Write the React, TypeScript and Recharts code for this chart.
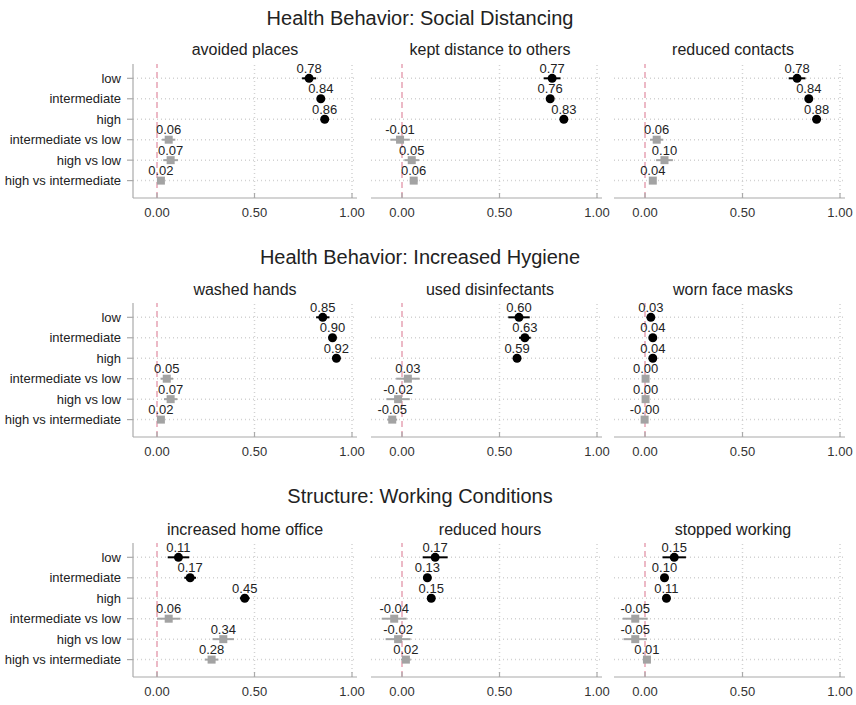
import { ScatterChart, Scatter, XAxis, YAxis, ReferenceLine, ErrorBar } from 'recharts';

const categories = [
  'low',
  'intermediate',
  'high',
  'intermediate vs low',
  'high vs low',
  'high vs intermediate',
];

const sectionTitles = [
  'Health Behavior: Social Distancing',
  'Health Behavior: Increased Hygiene',
  'Structure: Working Conditions',
];

const xTicks = [0, 0.5, 1];

// point estimates (first three: levels, last three: differences) and CI half widths
const avoidedPlaces = [0.78, 0.84, 0.86, 0.06, 0.07, 0.02];
const avoidedPlacesErr = [0.036, 0.015, 0.01, 0.034, 0.038, 0.015];
const keptDistance = [0.77, 0.76, 0.83, -0.01, 0.05, 0.06];
const keptDistanceErr = [0.043, 0.015, 0.012, 0.05, 0.038, 0.02];
const reducedContacts = [0.78, 0.84, 0.88, 0.06, 0.1, 0.04];
const reducedContactsErr = [0.043, 0.015, 0.012, 0.034, 0.043, 0.015];

const washedHands = [0.85, 0.9, 0.92, 0.05, 0.07, 0.02];
const washedHandsErr = [0.034, 0.012, 0.01, 0.032, 0.034, 0.012];
const usedDisinfectants = [0.6, 0.63, 0.59, 0.03, -0.02, -0.05];
const usedDisinfectantsErr = [0.055, 0.03, 0.015, 0.06, 0.06, 0.025];
const wornFaceMasks = [0.03, 0.04, 0.04, 0.003, 0.003, -0.002];
const wornFaceMasksErr = [0.008, 0.008, 0.008, 0.008, 0.008, 0.008];

const homeOffice = [0.11, 0.17, 0.45, 0.06, 0.34, 0.28];
const homeOfficeErr = [0.055, 0.03, 0.025, 0.06, 0.055, 0.035];
const reducedHours = [0.17, 0.13, 0.15, -0.04, -0.02, 0.02];
const reducedHoursErr = [0.064, 0.02, 0.015, 0.064, 0.064, 0.025];
const stoppedWorking = [0.15, 0.1, 0.11, -0.05, -0.05, 0.01];
const stoppedWorkingErr = [0.06, 0.02, 0.015, 0.064, 0.06, 0.015];

const panels = [
  [
    { title: 'avoided places', values: avoidedPlaces, errs: avoidedPlacesErr },
    { title: 'kept distance to others', values: keptDistance, errs: keptDistanceErr },
    { title: 'reduced contacts', values: reducedContacts, errs: reducedContactsErr },
  ],
  [
    { title: 'washed hands', values: washedHands, errs: washedHandsErr },
    { title: 'used disinfectants', values: usedDisinfectants, errs: usedDisinfectantsErr },
    { title: 'worn face masks', values: wornFaceMasks, errs: wornFaceMasksErr },
  ],
  [
    { title: 'increased home office', values: homeOffice, errs: homeOfficeErr },
    { title: 'reduced hours', values: reducedHours, errs: reducedHoursErr },
    { title: 'stopped working', values: stoppedWorking, errs: stoppedWorkingErr },
  ],
];

const FONT = '"Liberation Sans", Arial, Helvetica, sans-serif';
const TEXT = '#222';
const GRID = '#d2d2d2';
const AXIS = '#aaaaaa';
const DIFF = '#a3a3a3';

// layout (px per unit on x = 195)
const PX = 195;
const ZERO_X = [157, 402, 645];
const LOW_Y = [78, 317, 557];
const PLOT_H = 134;
const X_MAX = 200 / PX;
const Y_MIN = -0.7;
const Y_MAX = 5.85;
const TOP_PAD = 14;
const AXIS_H = 30;

function LevelDot(props: any) {
  const { cx, cy, payload } = props;
  return (
    <g>
      <circle cx={cx} cy={cy} r={4.5} fill="#000" />
      <text x={cx} y={cy - 5.5} textAnchor="middle" fontSize={13} fill={TEXT} fontFamily={FONT}>
        {payload.x.toFixed(2)}
      </text>
    </g>
  );
}

function DiffSquare(props: any) {
  const { cx, cy, payload } = props;
  return (
    <g>
      <rect x={cx - 4} y={cy - 4} width={8} height={8} fill={DIFF} />
      <text x={cx} y={cy - 5.5} textAnchor="middle" fontSize={13} fill={TEXT} fontFamily={FONT}>
        {payload.x.toFixed(2)}
      </text>
    </g>
  );
}

// single-line category label (no wrapping)
function CategoryTick(props: any) {
  const { x, y, payload } = props;
  return (
    <text x={x - 6} y={y} dy="0.355em" textAnchor="end" fontSize={13} fill={TEXT} fontFamily={FONT}>
      {categories[payload.value] ?? ''}
    </text>
  );
}

function Panel({ row, col }: { row: number; col: number }) {
  const p = panels[row][col];
  const first = col === 0;
  const leftPad = first ? 24 : 31;
  const xMin = -leftPad / PX;
  const plotW = leftPad + 200;
  const plotLeft = ZERO_X[col] - leftPad;
  const yAxisW = first ? plotLeft : 0;
  const marginLeft = first ? 0 : 20;
  const width = marginLeft + yAxisW + plotW + 12;
  const height = TOP_PAD + PLOT_H + AXIS_H;
  const left = plotLeft - yAxisW - marginLeft;
  const top = LOW_Y[row] - 0.7 * (PLOT_H / (Y_MAX - Y_MIN)) - TOP_PAD;

  const rows = p.values.map((v, i) => ({ x: v, y: i, err: p.errs[i] }));
  const levels = rows.slice(0, 3);
  const diffs = rows.slice(3);

  return (
    <div style={{ position: 'absolute', left, top, width, height }}>
      <ScatterChart
        width={width}
        height={height}
        margin={{ top: TOP_PAD, right: 12, bottom: 0, left: marginLeft }}
      >
        <XAxis
          type="number"
          dataKey="x"
          domain={[xMin, X_MAX]}
          allowDataOverflow
          ticks={xTicks}
          tickFormatter={(v: number) => v.toFixed(2)}
          stroke={AXIS}
          axisLine={{ stroke: AXIS, strokeWidth: 1.2 }}
          tickLine={{ stroke: AXIS, strokeWidth: 1.2 }}
          tickSize={-5}
          tickMargin={15}
          height={AXIS_H}
          tick={{ fill: '#333', fontSize: 13, fontFamily: FONT }}
          interval={0}
        />
        <YAxis
          type="number"
          dataKey="y"
          domain={[Y_MIN, Y_MAX]}
          allowDataOverflow
          reversed
          ticks={[0, 1, 2, 3, 4, 5]}
          interval={0}
          hide={!first}
          width={yAxisW}
          stroke={AXIS}
          axisLine={{ stroke: AXIS, strokeWidth: 1.2 }}
          tickLine={{ stroke: AXIS, strokeWidth: 1.2 }}
          tickSize={6}
          tickMargin={0}
          tick={<CategoryTick />}
        />

        {/* dotted grid */}
        {categories.map((_, i) => (
          <ReferenceLine key={`h${i}`} y={i} stroke={GRID} strokeDasharray="1 3" strokeWidth={1.5} />
        ))}
        <ReferenceLine x={0.5} stroke={GRID} strokeDasharray="1 3" strokeWidth={1.5} />
        <ReferenceLine x={1} stroke={GRID} strokeDasharray="1 3" strokeWidth={1.5} />
        <ReferenceLine x={0} stroke="#e6a2b4" strokeDasharray="6 4" strokeWidth={1.5} />

        <Scatter data={diffs} shape={DiffSquare} isAnimationActive={false}>
          <ErrorBar dataKey="err" direction="x" width={0} stroke={DIFF} strokeWidth={2} />
        </Scatter>
        <Scatter data={levels} shape={LevelDot} isAnimationActive={false}>
          <ErrorBar dataKey="err" direction="x" width={0} stroke="#000" strokeWidth={2} />
        </Scatter>
      </ScatterChart>
    </div>
  );
}

const SECTION_Y = [18, 257, 496];
const PANEL_TITLE_Y = [50, 290, 530];

export default function App() {
  return (
    <div
      style={{
        position: 'absolute',
        left: 0,
        top: 0,
        width: 856,
        height: 705,
        background: '#fff',
        fontFamily: FONT,
        color: TEXT,
      }}
    >
      {sectionTitles.map((t, r) => (
        <div
          key={t}
          style={{
            position: 'absolute',
            left: 0,
            width: 840,
            top: SECTION_Y[r] - 12,
            height: 24,
            lineHeight: '24px',
            textAlign: 'center',
            fontSize: 20,
          }}
        >
          {t}
        </div>
      ))}
      {panels.map((row, r) =>
        row.map((p, c) => (
          <div
            key={p.title}
            style={{
              position: 'absolute',
              left: ZERO_X[c] - 24,
              width: 224,
              top: PANEL_TITLE_Y[r] - 10,
              height: 20,
              lineHeight: '20px',
              textAlign: 'center',
              fontSize: 16,
            }}
          >
            {p.title}
          </div>
        ))
      )}
      {panels.map((row, r) => row.map((_, c) => <Panel key={`${r}-${c}`} row={r} col={c} />))}
    </div>
  );
}
